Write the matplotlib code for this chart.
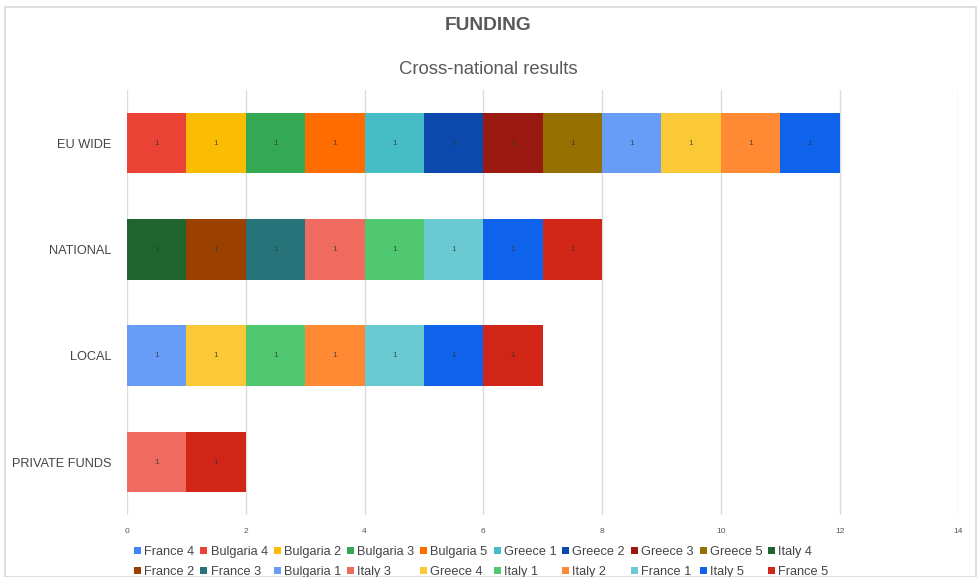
import matplotlib
matplotlib.use("Agg")
import matplotlib.pyplot as plt
from matplotlib.patches import Rectangle
import numpy as np

plt.rcParams['font.family'] = ['Liberation Sans', 'DejaVu Sans']

categories = ["EU WIDE", "NATIONAL", "LOCAL", "PRIVATE FUNDS"]
series = ["France 4", "Bulgaria 4", "Bulgaria 2", "Bulgaria 3", "Bulgaria 5",
          "Greece 1", "Greece 2", "Greece 3", "Greece 5", "Italy 4",
          "France 2", "France 3", "Bulgaria 1", "Italy 3", "Greece 4",
          "Italy 1", "Italy 2", "France 1", "Italy 5", "France 5"]
# values per series, in category order [EU WIDE, NATIONAL, LOCAL, PRIVATE FUNDS]
values = {
    "France 4":   [0, 0, 0, 0],
    "Bulgaria 4": [1, 0, 0, 0],
    "Bulgaria 2": [1, 0, 0, 0],
    "Bulgaria 3": [1, 0, 0, 0],
    "Bulgaria 5": [1, 0, 0, 0],
    "Greece 1":   [1, 0, 0, 0],
    "Greece 2":   [1, 0, 0, 0],
    "Greece 3":   [1, 0, 0, 0],
    "Greece 5":   [1, 0, 0, 0],
    "Italy 4":    [0, 1, 0, 0],
    "France 2":   [0, 1, 0, 0],
    "France 3":   [0, 1, 0, 0],
    "Bulgaria 1": [1, 0, 1, 0],
    "Italy 3":    [0, 1, 0, 1],
    "Greece 4":   [1, 0, 1, 0],
    "Italy 1":    [0, 1, 1, 0],
    "Italy 2":    [1, 0, 1, 0],
    "France 1":   [0, 1, 1, 0],
    "Italy 5":    [1, 1, 1, 0],
    "France 5":   [0, 1, 1, 1],
}
colors = {
    "France 4": "#4285F4", "Bulgaria 4": "#EA4335", "Bulgaria 2": "#FBBC04",
    "Bulgaria 3": "#34A853", "Bulgaria 5": "#FF6D01", "Greece 1": "#46BDC6",
    "Greece 2": "#0B49AD", "Greece 3": "#9A1A12", "Greece 5": "#957000",
    "Italy 4": "#1F642F", "France 2": "#9A4100", "France 3": "#267479",
    "Bulgaria 1": "#679DF6", "Italy 3": "#EF6B5F", "Greece 4": "#FCC936",
    "Italy 1": "#4FC86F", "Italy 2": "#FF8A33", "France 1": "#6BCAD1",
    "Italy 5": "#0E63EA", "France 5": "#D12617",
}
xticks = [0, 2, 4, 6, 8, 10, 12, 14]

fig = plt.figure(figsize=(9.77, 5.77), dpi=100)
ax = fig.add_axes([0.130, 0.107, 0.851, 0.737])

y = np.arange(len(categories))
left = np.zeros(len(categories))
handles = []
for s in series:
    v = np.array(values[s], dtype=float)
    bars = ax.barh(y, v, left=left, height=0.57, color=colors[s], label=s,
                   edgecolor='none', zorder=3)
    handles.append(bars)
    for i, val in enumerate(v):
        if val > 0:
            ax.text(left[i] + val / 2, y[i], f"{int(val)}", ha='center', va='center',
                    fontsize=6, color='#333333', alpha=0.8, zorder=4)
    left += v

ax.set_xlim(0, 14)
ax.set_ylim(3.5, -0.5)
ax.set_xticks(xticks)
ax.set_xticklabels([str(t) for t in xticks], fontsize=6, color='#555555')
ax.set_yticks(y)
ax.set_yticklabels(categories, fontsize=9.2, color='#444444')
ax.tick_params(axis='both', length=0)
ax.tick_params(axis='x', pad=9)
ax.tick_params(axis='y', pad=11)
for sp in ax.spines.values():
    sp.set_visible(False)
ax.grid(axis='x', color='#dcdcdc', linewidth=1, zorder=0)
ax.set_axisbelow(True)

fig.text(0.5, 1 - 26 / 577, "FUNDING", ha='center', va='center', fontsize=13.8,
         fontweight='bold', color='#595959')
fig.text(0.5, 1 - 70 / 577, "Cross-national results", ha='center', va='center',
         fontsize=13.3, color='#595959')

# legend: row-major order across 10 columns
ncol = 10
order = []
for c in range(ncol):
    order.append(c)
    order.append(c + ncol)
leg = fig.legend([handles[i] for i in order], [series[i] for i in order],
                 loc='upper left', bbox_to_anchor=(134 / 977, 1 - 546 / 577),
                 ncol=ncol, frameon=False, fontsize=9.2, handlelength=0.55,
                 handleheight=0.55, handletextpad=0.25, columnspacing=0.46,
                 labelspacing=0.62, borderpad=0, borderaxespad=0)
for t in leg.get_texts():
    t.set_color('#444444')

fig.add_artist(Rectangle((5 / 977, 0), 971 / 977, 1 - 7 / 577, transform=fig.transFigure,
                         fill=False, edgecolor='#d9d9d9', linewidth=1.2))

fig.savefig("out.png", dpi=100, facecolor='white')
